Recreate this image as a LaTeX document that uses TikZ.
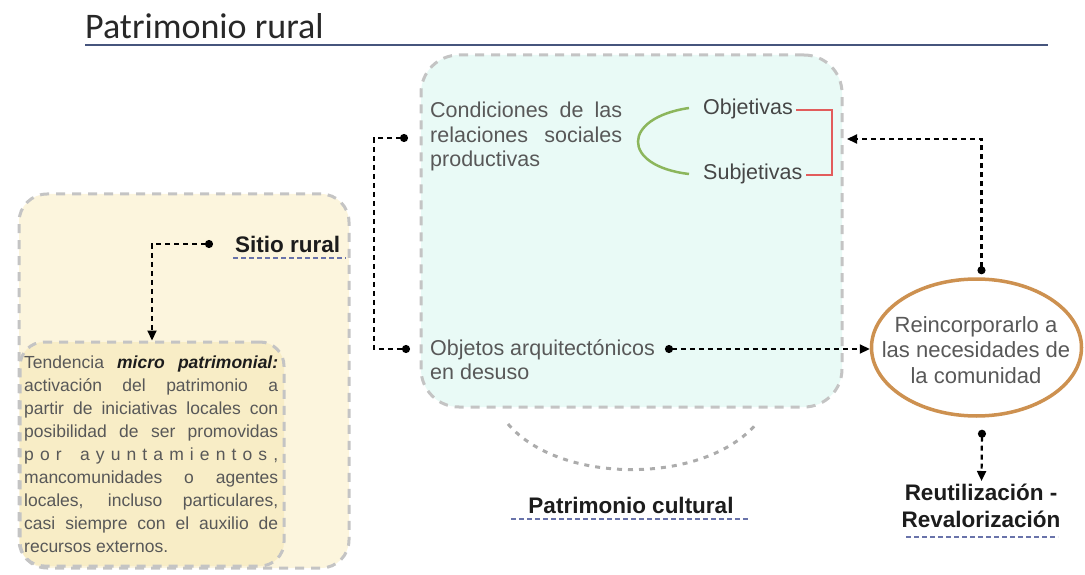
\documentclass[tikz,border=0pt]{standalone}
\usepackage{fontspec}
\setmainfont{Liberation Sans}
\newfontfamily\titlefont{Carlito}
\usetikzlibrary{arrows.meta,shapes.geometric}
\definecolor{outerfill}{RGB}{252,245,221}
\definecolor{innerfill}{RGB}{248,237,198}
\definecolor{cyanfill}{RGB}{233,250,246}
\definecolor{boxdash}{RGB}{196,196,196}
\definecolor{arcdash}{RGB}{172,172,172}
\definecolor{bodytxt}{RGB}{88,88,88}
\definecolor{objtxt}{RGB}{70,70,70}
\definecolor{darktxt}{RGB}{28,28,28}
\definecolor{ulblue}{RGB}{105,115,170}
\definecolor{titleline}{RGB}{70,85,125}
\definecolor{greenc}{RGB}{140,182,92}
\definecolor{redc}{RGB}{226,92,92}
\definecolor{ellc}{RGB}{205,145,80}
\begin{document}
\begin{tikzpicture}[x=1pt,y=-1pt,
  dbox/.style={draw=boxdash, line width=3pt, dash pattern=on 9pt off 7pt, inner sep=0pt},
  conn/.style={draw=black, line width=2.2pt, dash pattern=on 5pt off 4pt},
  dotarrow/.style={{Circle[length=8pt]}-{Triangle[length=10pt,width=9pt]}},
  dotdot/.style={{Circle[length=8pt]}-{Circle[length=8pt]}},
  ulstyle/.style={draw=ulblue, line width=2pt, dash pattern=on 5pt off 3pt},
  body/.style={text=bodytxt, inner sep=0pt, font=\fontsize{21.5}{24.5}\selectfont},
  boldlbl/.style={text=darktxt, inner sep=0pt, font=\fontsize{22.5}{27}\selectfont\bfseries}
]
\useasboundingbox (0,0) rectangle (1085,575);

% title
\node[anchor=base west, inner sep=0pt, text={rgb,255:red,40;green,40;blue,40},
      font=\titlefont\fontsize{36}{40}\selectfont] (title) at (85,39) {Patrimonio rural};
\coordinate (tlstart) at (85,45);
\coordinate (tlend) at (1048,45);
\draw[titleline, line width=2.2pt] (tlstart) -- (tlend);

% left boxes
\node[dbox, fill=outerfill, rounded corners=28pt, minimum width=330pt, minimum height=374pt] (outer) at (184,381) {};
\node[dbox, fill=innerfill, rounded corners=24pt, minimum width=264pt, minimum height=224pt] (inner) at (152,454) {};
\node[anchor=base west, inner sep=0pt, text=bodytxt, font=\fontsize{17.5}{23}\selectfont] (tend) at (24,368)
{\parbox[t]{254pt}{%
\makebox[254pt][s]{Tendencia {\color{darktxt}\bfseries\itshape micro patrimonial:}}\\
\makebox[254pt][s]{activación del patrimonio a}\\
\makebox[254pt][s]{partir de iniciativas locales con}\\
\makebox[254pt][s]{posibilidad de ser promovidas}\\
\makebox[254pt][s]{p\hfill o\hfill r\hfill\hfill\hfill a\hfill y\hfill u\hfill n\hfill t\hfill a\hfill m\hfill i\hfill e\hfill n\hfill t\hfill o\hfill s\hfill ,}\\
\makebox[254pt][s]{mancomunidades o agentes}\\
\makebox[254pt][s]{locales, incluso particulares,}\\
\makebox[254pt][s]{casi siempre con el auxilio de}\\
recursos externos.}};

\node[boldlbl, anchor=base west] (sitio) at (235,252) {Sitio rural};
\draw[ulstyle] ([shift={(-2,6)}]sitio.base west) -- ([shift={(5,6)}]sitio.base east);
\draw[conn, dotarrow] ([shift={(-22,-8)}]sitio.base west) -| (inner.north);

% cyan box
\node[dbox, fill=cyanfill, rounded corners=38pt, minimum width=421pt, minimum height=352pt] (cyanb) at (631.5,231) {};
\coordinate (arcL) at (508,424);
\coordinate (arcR) at (757,423);
\draw[arcdash, line width=3pt, dash pattern=on 5pt off 6pt] (arcL) .. controls (560,485) and (705,485) .. (arcR);

\node[body, anchor=base west] (cond) at (430,118)
{\parbox[t]{192pt}{\makebox[192pt][s]{Condiciones de las}\\\makebox[192pt][s]{relaciones sociales}\\productivas}};
\node[body, text=objtxt, anchor=base west] (objv) at (703,115) {Objetivas};
\node[body, text=objtxt, anchor=base west] (subj) at (703,180) {Subjetivas};
\draw[greenc, line width=2.5pt] ([shift={(-14,-7)}]objv.base west) .. controls +(-68,10) and +(-68,-8) .. ([shift={(-14,-6)}]subj.base west);
\coordinate (brk) at (832,142);
\draw[redc, line width=2.5pt] ([shift={(3,-5)}]objv.base east) -| (brk) |- ([shift={(3,-5)}]subj.base east);

\node[body, anchor=base west] (objt) at (430,355)
{\parbox[t]{240pt}{Objetos arquitectónicos\\en desuso}};

% ellipse
\node[draw=ellc, line width=3.5pt, ellipse, minimum width=210pt, minimum height=137pt, inner sep=0pt] (ell) at (976.5,347.5) {};
\node[text=bodytxt, inner sep=0pt, align=center, font=\fontsize{22}{25.5}\selectfont] (elltxt) at (976,350)
{Reincorporarlo a\\las necesidades de\\la comunidad};

% connectors
\coordinate (lcorner) at (374,349);
\draw[conn, dotdot] ([shift={(-22,20)}]cond.base west) -| (lcorner) -- ([shift={(-20,-6)}]objt.base west);
\coordinate (brkin) at (847,139);
\draw[conn, dotarrow] ([shift={(5,-3)}]ell.north) |- (brkin);
\draw[conn, dotarrow] ([shift={(235,-6)}]objt.base west) -- (ell.west |- 0,349);

% bottom labels
\node[boldlbl, anchor=base] (pc) at (631,513) {Patrimonio cultural};
\draw[ulstyle] ([shift={(-17,6)}]pc.base west) -- ([shift={(17,6)}]pc.base east);

\node[boldlbl, anchor=base] (reut) at (981,500)
{\parbox[t]{200pt}{\centering Reutilización -\\Revalorización}};
\draw[conn, dotarrow] ([shift={(5.5,12)}]ell.south) -- ([shift={(0.5,-19)}]reut.base);
\draw[ulstyle] ([shift={(-75,37)}]reut.base) -- ([shift={(77,37)}]reut.base);
\end{tikzpicture}
\end{document}
